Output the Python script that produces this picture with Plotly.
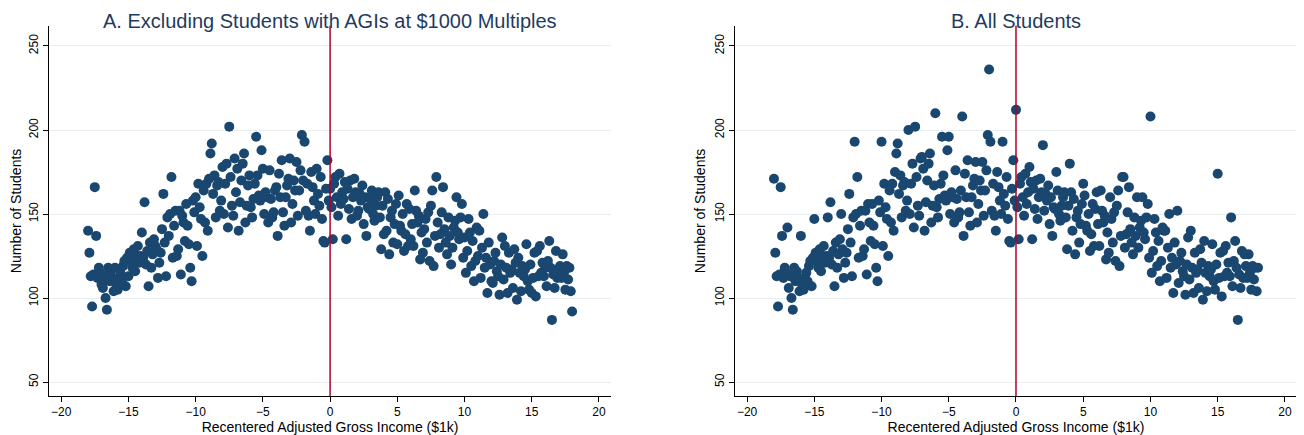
import plotly.graph_objects as go

x_vals = [round(-18 + 0.1 * i, 1) for i in range(361)]

students_a = [
140,127,113,95,114,166,137,112,118,115,
108,106,113,100,93,118,110,116,112,104,
118,108,105,112,115,110,119,122,107,124,
113,127,122,118,129,116,125,131,121,125,
139,124,157,120,128,107,133,118,126,135,
131,129,112,121,127,141,162,133,113,148,
137,150,172,124,143,152,125,129,152,114,
149,145,134,156,143,132,118,110,158,151,
160,131,168,154,147,125,164,145,168,140,
171,186,192,162,173,148,167,169,152,158,
178,150,168,180,142,202,172,155,149,183,
163,177,140,157,170,180,186,145,155,167,
173,154,148,159,168,196,173,161,158,188,
177,150,163,160,145,176,159,148,151,164,
166,137,174,160,182,151,143,160,167,171,
183,145,156,170,164,181,149,164,176,197,
170,193,152,168,149,140,175,166,158,150,
177,162,155,172,147,134,133,165,182,158,
165,154,135,168,172,160,149,174,156,163,
159,169,135,165,153,170,147,160,171,163,
149,152,162,158,167,144,160,137,154,153,
159,164,150,146,155,160,163,148,129,155,
138,163,140,159,126,148,152,133,144,156,
132,161,143,140,150,128,138,156,131,153,
135,144,131,164,152,145,149,123,139,127,
141,147,133,151,122,155,164,119,137,172,
145,130,138,151,166,141,133,126,148,137,
120,130,142,146,160,139,135,148,156,124,
136,115,128,147,139,119,134,110,122,142,
125,140,112,130,150,118,124,103,133,120,
110,109,122,127,116,113,102,120,136,111,
131,118,103,127,115,117,106,129,121,99,
124,115,104,119,113,117,132,110,105,120,
103,112,127,101,128,113,131,115,121,113,
118,107,122,134,118,87,114,106,128,112,
117,119,112,126,115,105,119,111,118,104,
92]

# Panel B values at $1000 multiples (x = -18 ... 18)
multiple_x = list(range(-18, 19))
multiple_counts_b = [171,142,137,147,148,150,193,156,193,175,200,184,210,196,208,181,236,193,
                     212,178,191,175,180,168,163,160,172,160,208,140,152,140,134,174,148,126,118]

students_b = list(students_a)
for mx, c in zip(multiple_x, multiple_counts_b):
    students_b[int(round((mx + 18) * 10))] = c

navy = "#1a476f"
fig = go.Figure()
fig.add_trace(go.Scatter(x=x_vals, y=students_a, mode="markers", xaxis="x", yaxis="y",
                         marker=dict(color=navy, size=10), showlegend=False))
fig.add_trace(go.Scatter(x=x_vals, y=students_b, mode="markers", xaxis="x2", yaxis="y2",
                         marker=dict(color=navy, size=10), showlegend=False))

xcommon = dict(range=[-20.9, 20.9], tickvals=[-20, -15, -10, -5, 0, 5, 10, 15, 20],
               showline=True, linecolor="black", ticks="outside", ticklen=5, tickcolor="black",
               showgrid=False, zeroline=False, tickfont=dict(size=12, color="black"),
               title=dict(text="Recentered Adjusted Gross Income ($1k)", font=dict(size=14, color="black"), standoff=0))
ycommon = dict(range=[41.7, 262], tickvals=[50, 100, 150, 200, 250], tickangle=-90,
               showline=True, linecolor="black", ticks="outside", ticklen=5, tickcolor="black",
               showgrid=True, gridcolor="#e8eef0", zeroline=False, tickfont=dict(size=12, color="black"),
               title=dict(text="Number of Students", font=dict(size=14, color="black"), standoff=4))

fig.update_layout(
    width=1304, height=435, margin=dict(l=0, r=0, t=0, b=0),
    plot_bgcolor="white", paper_bgcolor="white",
    font=dict(family="Liberation Sans, Arial", color="black"),
    xaxis=dict(domain=[0.0315, 0.4625], anchor="y", **xcommon),
    yaxis=dict(domain=[0.108, 0.959], anchor="x", **ycommon),
    xaxis2=dict(domain=[0.5575, 0.9885], anchor="y2", **xcommon),
    yaxis2=dict(domain=[0.108, 0.959], anchor="x2", **ycommon),
    shapes=[
        dict(type="line", xref="x", yref="y domain", x0=0, x1=0, y0=0, y1=1, line=dict(color="#b0002a", width=1.5)),
        dict(type="line", xref="x2", yref="y2 domain", x0=0, x1=0, y0=0, y1=1, line=dict(color="#b0002a", width=1.5)),
    ],
    annotations=[
        dict(text="A. Excluding Students with AGIs at $1000 Multiples", x=0.247, y=1.0, xref="paper", yref="paper",
             xanchor="center", yanchor="top", showarrow=False, font=dict(size=20, color="#1f3b5f")),
        dict(text="B. All Students", x=0.773, y=1.0, xref="paper", yref="paper",
             xanchor="center", yanchor="top", showarrow=False, font=dict(size=20, color="#1f3b5f")),
    ],
)

fig.write_html("out.html")
